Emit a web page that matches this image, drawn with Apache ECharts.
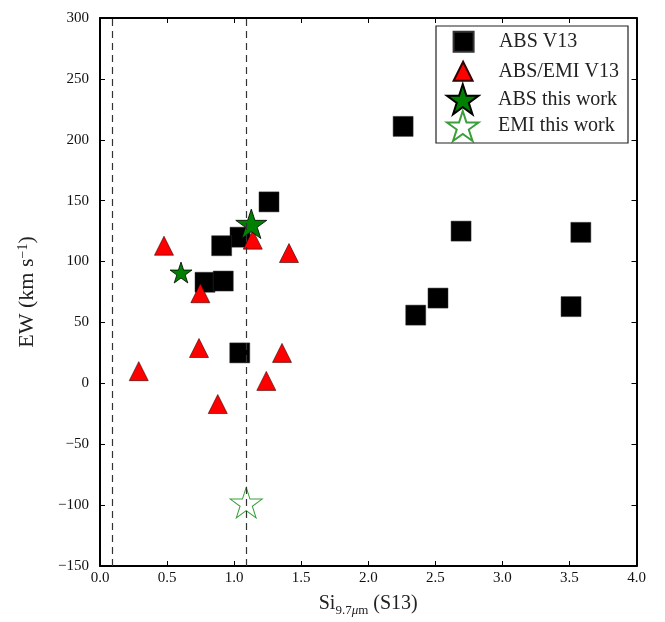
<!DOCTYPE html>
<html lang="en">
<head>
  <meta charset="UTF-8">
  <title>EW vs Si 9.7um</title>
  <style>
    html, body { margin: 0; padding: 0; background: #fff; }
    #root { width: 665px; height: 622px; }
  </style>
</head>
<body>
  <div id="root"></div>
</body>
<script src="https://cdn.jsdelivr.net/npm/echarts@6/dist/echarts.min.js"></script>
<script>
  // values: [Si 9.7um (S13), EW km/s]
  const absV13 = [
    [1.26, 149], [1.044, 120], [0.907, 113], [0.783, 83], [0.919, 84], [1.042, 25],
    [2.26, 211], [2.692, 125], [3.585, 124], [2.52, 70], [2.354, 56], [3.512, 63]
  ];
  const absEmiV13 = [
    [0.477, 113], [1.139, 118], [1.409, 107], [0.748, 74], [0.738, 29],
    [1.357, 25], [0.289, 10], [1.24, 2], [0.878, -17]
  ];
  const absThisWork = [[1.128, 131], [0.604, 91]];
  const absThisWorkSize = [31, 22];
  const emiThisWork = [[1.09, -98]];
  const dashedX = [0.086, 1.09];

  const xTicks = { min: 0, max: 4, interval: 0.5 };
  const yTicks = { min: -150, max: 300, interval: 50 };

  const star = 'path://M0,-100L22.45,-30.9L95.11,-30.9L36.33,11.8L58.78,80.9L0,38.2L-58.78,80.9L-36.33,11.8L-95.11,-30.9L-22.45,-30.9Z';
  const square = 'path://M0,0H10V10H0Z';
  const tri = 'path://M5,0L10,10L0,10Z';

  const font = 'Liberation Serif';
  const axisLine = { show: true, onZero: false, lineStyle: { color: '#000', width: 2 } };
  const tick = { show: true, inside: true, length: 5, lineStyle: { color: '#000', width: 1 } };

  let myChart = echarts.init(document.getElementById('root'))

  // one legend per entry so each icon gets its own size
  const legendRows = [
    { name: 'ABS V13', icon: square, h: 20, y: 40.7, left: 452.6 },
    { name: 'ABS/EMI V13', icon: tri, h: 19, y: 70.3, left: 452.6 },
    { name: 'ABS this work', icon: star, h: 30, y: 98.3, left: 446 },
    { name: 'EMI this work', icon: star, h: 30, y: 125, left: 446 }
  ];
  const legends = legendRows.map(r => ({
    data: [{ name: r.name, icon: r.icon }],
    left: r.left,
    top: r.y - r.h / 2,
    padding: 0,
    itemWidth: 60.6,
    itemHeight: r.h,
    symbolKeepAspect: true,
    selectedMode: false,
    textStyle: { fontFamily: font, fontSize: 20, color: '#222' }
  }));

  let option = {
    animation: false,
    backgroundColor: '#fff',
    grid: { left: 100, top: 18, width: 536.5, height: 553 },
    legend: legends,
    graphic: [{
      type: 'rect',
      shape: { x: 436, y: 26, width: 192, height: 117 },
      style: { fill: 'none', stroke: '#222', lineWidth: 1.2 },
      z: 100
    }],
    xAxis: [
      {
        type: 'value', position: 'bottom', ...xTicks,
        axisLine, axisTick: tick, splitLine: { show: false },
        axisLabel: {
          margin: 5, fontFamily: font, fontSize: 15, color: '#111',
          formatter: v => v.toFixed(1)
        },
        name: '{a|Si}{b|9.7}{bi|μ}{b|m}{a| (S13)}',
        nameLocation: 'middle',
        nameGap: 28,
        nameTextStyle: {
          rich: {
            a: { fontFamily: font, fontSize: 20, lineHeight: 20, color: '#222', verticalAlign: 'top' },
            b: { fontFamily: font, fontSize: 13, lineHeight: 13, color: '#222', verticalAlign: 'top', padding: [10, 0, 0, 0] },
            bi: { fontFamily: font, fontSize: 13, lineHeight: 13, fontStyle: 'italic', color: '#222', verticalAlign: 'top', padding: [10, 0, 0, 0] }
          }
        }
      },
      {
        type: 'value', position: 'top', ...xTicks,
        axisLine, axisTick: tick, splitLine: { show: false },
        axisLabel: { show: false }
      }
    ],
    yAxis: [
      {
        type: 'value', position: 'left', ...yTicks,
        axisLine, axisTick: tick, splitLine: { show: false },
        axisLabel: {
          margin: 11, fontFamily: font, fontSize: 15, color: '#111',
          formatter: v => String(v).replace('-', '\u2212')
        },
        name: '{a|EW (km s}{c|\u22121}{a|)}',
        nameLocation: 'middle',
        nameRotate: 90,
        nameGap: 62,
        nameTextStyle: {
          rich: {
            a: { fontFamily: font, fontSize: 22, lineHeight: 22, color: '#222', verticalAlign: 'bottom' },
            c: { fontFamily: font, fontSize: 14, lineHeight: 14, color: '#222', verticalAlign: 'top', padding: [0, 0, 11, 0] }
          }
        }
      },
      {
        type: 'value', position: 'right', ...yTicks,
        axisLine, axisTick: tick, splitLine: { show: false },
        axisLabel: { show: false }
      }
    ],
    series: [
      {
        name: 'dashed',
        type: 'scatter',
        data: [],
        silent: true,
        markLine: {
          silent: true,
          symbol: ['none', 'none'],
          label: { show: false },
          lineStyle: { color: '#333', type: [7, 5], width: 1.2 },
          data: dashedX.map(x => ({ xAxis: x }))
        }
      },
      {
        name: 'ABS V13',
        type: 'scatter',
        symbol: 'rect',
        symbolSize: 20,
        data: absV13,
        itemStyle: { color: '#000', borderColor: '#333', borderWidth: 0.5, opacity: 1 }
      },
      {
        name: 'ABS/EMI V13',
        type: 'scatter',
        symbol: 'triangle',
        symbolSize: 19,
        data: absEmiV13,
        itemStyle: { color: '#ff0000', borderColor: '#300', borderWidth: 0.6, opacity: 1 }
      },
      {
        name: 'ABS this work',
        type: 'scatter',
        symbol: star,
        symbolSize: (v, p) => [absThisWorkSize[p.dataIndex], absThisWorkSize[p.dataIndex] * 0.95],
        data: absThisWork,
        itemStyle: { color: '#008000', borderColor: '#000', borderWidth: 0.8, opacity: 1 }
      },
      {
        name: 'EMI this work',
        type: 'scatter',
        symbol: star,
        symbolSize: [32, 30.4],
        data: emiThisWork,
        itemStyle: { color: 'rgba(0,0,0,0)', borderColor: '#3a9f3a', borderWidth: 1, opacity: 1 }
      }
    ]
  };

  myChart.setOption(option)
</script>
</html>
